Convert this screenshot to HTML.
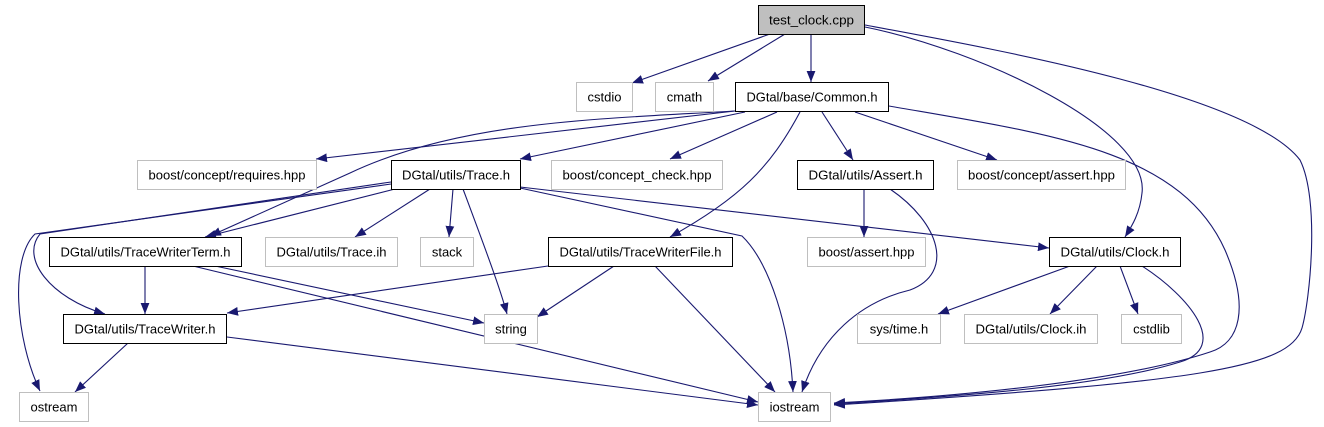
<!DOCTYPE html>
<html><head><meta charset="utf-8"><style>
html,body{margin:0;padding:0;background:#fff;}
svg{display:block;}
text{font-family:"Liberation Sans",sans-serif;font-size:13px;fill:#000;}
</style></head><body>
<svg width="1324" height="427" viewBox="0 0 1324 427" xmlns="http://www.w3.org/2000/svg">
<defs>
<marker id="a" viewBox="0 0 10 8" refX="10" refY="4" markerWidth="11" markerHeight="9" markerUnits="userSpaceOnUse" orient="auto">
<path d="M0,0 L10,4 L0,8 z" fill="#191970"/>
</marker>
</defs>
<g fill="none" stroke="#191970" stroke-width="1.1" marker-end="url(#a)">
<path d="M770,34 L632,83"/>
<path d="M785,34 L708,81"/>
<path d="M811,34 L811,82"/>
<path d="M865,27 C980,50 1150,130 1142,193 C1140,213 1132,226 1125,237"/>
<path d="M865,25 C1000,50 1250,95 1300,160 C1320,200 1310,300 1302,328 C1290,368 1200,382 834,405"/>
<path d="M735,111 L316,159"/>
<path d="M745,112 L520,159"/>
<path d="M735,111 C600,119 460,121 350,173 L210,236"/>
<path d="M777,112 L670,159"/>
<path d="M800,112 C770,168 740,198 670,237"/>
<path d="M822,112 L853,160"/>
<path d="M855,112 L997,160"/>
<path d="M889,106 C1050,134 1180,150 1225,250 C1250,308 1240,343 1210,352 C1120,382 950,397 834,403"/>
<path d="M391,184 L35,234 C10,258 15,338 40,391"/>
<path d="M391,182 L40,234 C20,258 50,298 105,314"/>
<path d="M395,189 L205,237"/>
<path d="M430,189 L355,237"/>
<path d="M453,189 L449,237"/>
<path d="M463,189 C485,248 500,288 507,314"/>
<path d="M520,188 L742,236 C770,263 790,328 793,392"/>
<path d="M520,187 L1049,248"/>
<path d="M145,266 L145,314"/>
<path d="M215,266 L484,323"/>
<path d="M193,266 L758,402"/>
<path d="M548,266 L227,313"/>
<path d="M614,266 L537,317"/>
<path d="M655,266 L775,392"/>
<path d="M864,189 L864,237"/>
<path d="M890,189 C940,223 955,273 910,290 C860,302 820,337 802,392"/>
<path d="M1070,266 L938,314"/>
<path d="M1097,266 L1050,314"/>
<path d="M1120,266 L1138,314"/>
<path d="M1142,266 C1190,297 1230,347 1180,362 C1100,387 950,397 834,404"/>
<path d="M128,343 L75,392"/>
<path d="M227,337 L758,405"/>
</g>
<g stroke-width="1">
<rect x="758.5" y="5.5" width="106" height="29" fill="#bfbfbf" stroke="#000"/>
<rect x="576.5" y="82.5" width="56" height="29" fill="#fff" stroke="#bfbfbf"/>
<rect x="655.5" y="82.5" width="58" height="29" fill="#fff" stroke="#bfbfbf"/>
<rect x="735.5" y="82.5" width="153" height="29" fill="#fff" stroke="#000"/>
<rect x="137.5" y="160.5" width="179" height="29" fill="#fff" stroke="#bfbfbf"/>
<rect x="391.5" y="160.5" width="129" height="29" fill="#fff" stroke="#000"/>
<rect x="551.5" y="160.5" width="171" height="29" fill="#fff" stroke="#bfbfbf"/>
<rect x="797.5" y="160.5" width="136" height="29" fill="#fff" stroke="#000"/>
<rect x="957.5" y="160.5" width="168" height="29" fill="#fff" stroke="#bfbfbf"/>
<rect x="49.5" y="237.5" width="192" height="29" fill="#fff" stroke="#000"/>
<rect x="265.5" y="237.5" width="132" height="29" fill="#fff" stroke="#bfbfbf"/>
<rect x="420.5" y="237.5" width="53" height="29" fill="#fff" stroke="#bfbfbf"/>
<rect x="548.5" y="237.5" width="184" height="29" fill="#fff" stroke="#000"/>
<rect x="807.5" y="237.5" width="118" height="29" fill="#fff" stroke="#bfbfbf"/>
<rect x="1049.5" y="237.5" width="131" height="29" fill="#fff" stroke="#000"/>
<rect x="63.5" y="314.5" width="163" height="29" fill="#fff" stroke="#000"/>
<rect x="484.5" y="314.5" width="53" height="29" fill="#fff" stroke="#bfbfbf"/>
<rect x="857.5" y="314.5" width="83" height="29" fill="#fff" stroke="#bfbfbf"/>
<rect x="964.5" y="314.5" width="133" height="29" fill="#fff" stroke="#bfbfbf"/>
<rect x="1121.5" y="314.5" width="60" height="29" fill="#fff" stroke="#bfbfbf"/>
<rect x="19.5" y="392.5" width="69" height="29" fill="#fff" stroke="#bfbfbf"/>
<rect x="758.5" y="392.5" width="72" height="29" fill="#fff" stroke="#bfbfbf"/>
</g>
<g text-anchor="middle">
<text x="811.5" y="24.5" textLength="85" lengthAdjust="spacingAndGlyphs">test_clock.cpp</text>
<text x="604.5" y="101.5">cstdio</text>
<text x="684.5" y="101.5">cmath</text>
<text x="812" y="101.5" textLength="131" lengthAdjust="spacingAndGlyphs">DGtal/base/Common.h</text>
<text x="227" y="179.5" textLength="157" lengthAdjust="spacingAndGlyphs">boost/concept/requires.hpp</text>
<text x="456" y="179.5" textLength="108" lengthAdjust="spacingAndGlyphs">DGtal/utils/Trace.h</text>
<text x="637" y="179.5" textLength="149" lengthAdjust="spacingAndGlyphs">boost/concept_check.hpp</text>
<text x="865.5" y="179.5" textLength="114" lengthAdjust="spacingAndGlyphs">DGtal/utils/Assert.h</text>
<text x="1041.5" y="179.5" textLength="147" lengthAdjust="spacingAndGlyphs">boost/concept/assert.hpp</text>
<text x="145.5" y="256.5" textLength="170" lengthAdjust="spacingAndGlyphs">DGtal/utils/TraceWriterTerm.h</text>
<text x="331.5" y="256.5" textLength="110" lengthAdjust="spacingAndGlyphs">DGtal/utils/Trace.ih</text>
<text x="447" y="256.5">stack</text>
<text x="640.5" y="256.5" textLength="162" lengthAdjust="spacingAndGlyphs">DGtal/utils/TraceWriterFile.h</text>
<text x="866.5" y="256.5" textLength="96" lengthAdjust="spacingAndGlyphs">boost/assert.hpp</text>
<text x="1115" y="256.5" textLength="109" lengthAdjust="spacingAndGlyphs">DGtal/utils/Clock.h</text>
<text x="145" y="333.5" textLength="141" lengthAdjust="spacingAndGlyphs">DGtal/utils/TraceWriter.h</text>
<text x="511" y="333.5">string</text>
<text x="899" y="333.5">sys/time.h</text>
<text x="1031" y="333.5" textLength="111" lengthAdjust="spacingAndGlyphs">DGtal/utils/Clock.ih</text>
<text x="1151.5" y="333.5">cstdlib</text>
<text x="54" y="411.5">ostream</text>
<text x="794.5" y="411.5">iostream</text>
</g>
</svg>
</body></html>
